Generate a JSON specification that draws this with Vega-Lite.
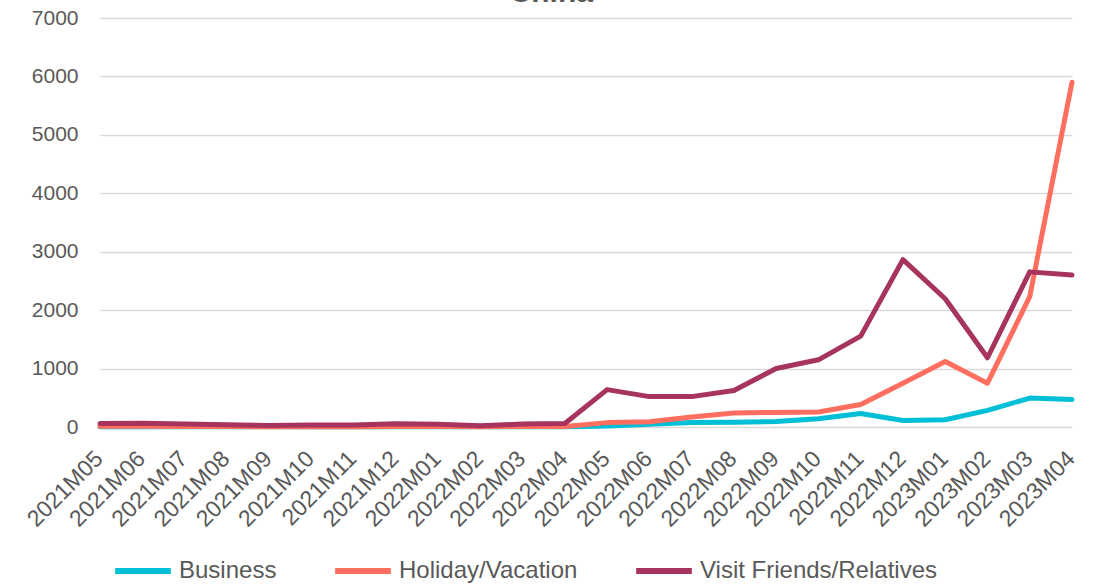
{
  "$schema": "https://vega.github.io/schema/vega-lite/v6.json",
  "width": 972,
  "height": 409,
  "autosize": {"type": "none"},
  "padding": {"left": 100, "top": 18, "right": 22, "bottom": 159},
  "title": {"text": "China", "offset": 4, "dy": 5, "fontSize": 30, "color": "#595959", "font": "Liberation Sans", "fontWeight": "bold", "anchor": "middle", "frame": "bounds"},
  "data": {
    "values": [
      {"month": "2021M05", "purpose": "Business", "value": 5},
      {"month": "2021M06", "purpose": "Business", "value": 5},
      {"month": "2021M07", "purpose": "Business", "value": 5},
      {"month": "2021M08", "purpose": "Business", "value": 5},
      {"month": "2021M09", "purpose": "Business", "value": 3},
      {"month": "2021M10", "purpose": "Business", "value": 3},
      {"month": "2021M11", "purpose": "Business", "value": 3},
      {"month": "2021M12", "purpose": "Business", "value": 5},
      {"month": "2022M01", "purpose": "Business", "value": 5},
      {"month": "2022M02", "purpose": "Business", "value": 3},
      {"month": "2022M03", "purpose": "Business", "value": 5},
      {"month": "2022M04", "purpose": "Business", "value": 5},
      {"month": "2022M05", "purpose": "Business", "value": 15},
      {"month": "2022M06", "purpose": "Business", "value": 45},
      {"month": "2022M07", "purpose": "Business", "value": 75},
      {"month": "2022M08", "purpose": "Business", "value": 80},
      {"month": "2022M09", "purpose": "Business", "value": 95},
      {"month": "2022M10", "purpose": "Business", "value": 140},
      {"month": "2022M11", "purpose": "Business", "value": 230},
      {"month": "2022M12", "purpose": "Business", "value": 110},
      {"month": "2023M01", "purpose": "Business", "value": 125},
      {"month": "2023M02", "purpose": "Business", "value": 285},
      {"month": "2023M03", "purpose": "Business", "value": 495},
      {"month": "2023M04", "purpose": "Business", "value": 470},
      {"month": "2021M05", "purpose": "Holiday/Vacation", "value": 12},
      {"month": "2021M06", "purpose": "Holiday/Vacation", "value": 12},
      {"month": "2021M07", "purpose": "Holiday/Vacation", "value": 10},
      {"month": "2021M08", "purpose": "Holiday/Vacation", "value": 8},
      {"month": "2021M09", "purpose": "Holiday/Vacation", "value": 5},
      {"month": "2021M10", "purpose": "Holiday/Vacation", "value": 6},
      {"month": "2021M11", "purpose": "Holiday/Vacation", "value": 6},
      {"month": "2021M12", "purpose": "Holiday/Vacation", "value": 10},
      {"month": "2022M01", "purpose": "Holiday/Vacation", "value": 8},
      {"month": "2022M02", "purpose": "Holiday/Vacation", "value": 5},
      {"month": "2022M03", "purpose": "Holiday/Vacation", "value": 8},
      {"month": "2022M04", "purpose": "Holiday/Vacation", "value": 10},
      {"month": "2022M05", "purpose": "Holiday/Vacation", "value": 75},
      {"month": "2022M06", "purpose": "Holiday/Vacation", "value": 90},
      {"month": "2022M07", "purpose": "Holiday/Vacation", "value": 170},
      {"month": "2022M08", "purpose": "Holiday/Vacation", "value": 240},
      {"month": "2022M09", "purpose": "Holiday/Vacation", "value": 250},
      {"month": "2022M10", "purpose": "Holiday/Vacation", "value": 257},
      {"month": "2022M11", "purpose": "Holiday/Vacation", "value": 385},
      {"month": "2022M12", "purpose": "Holiday/Vacation", "value": 750},
      {"month": "2023M01", "purpose": "Holiday/Vacation", "value": 1120},
      {"month": "2023M02", "purpose": "Holiday/Vacation", "value": 750},
      {"month": "2023M03", "purpose": "Holiday/Vacation", "value": 2230},
      {"month": "2023M04", "purpose": "Holiday/Vacation", "value": 5900},
      {"month": "2021M05", "purpose": "Visit Friends/Relatives", "value": 60},
      {"month": "2021M06", "purpose": "Visit Friends/Relatives", "value": 65},
      {"month": "2021M07", "purpose": "Visit Friends/Relatives", "value": 50},
      {"month": "2021M08", "purpose": "Visit Friends/Relatives", "value": 40},
      {"month": "2021M09", "purpose": "Visit Friends/Relatives", "value": 25},
      {"month": "2021M10", "purpose": "Visit Friends/Relatives", "value": 35},
      {"month": "2021M11", "purpose": "Visit Friends/Relatives", "value": 35},
      {"month": "2021M12", "purpose": "Visit Friends/Relatives", "value": 55},
      {"month": "2022M01", "purpose": "Visit Friends/Relatives", "value": 45},
      {"month": "2022M02", "purpose": "Visit Friends/Relatives", "value": 20},
      {"month": "2022M03", "purpose": "Visit Friends/Relatives", "value": 50},
      {"month": "2022M04", "purpose": "Visit Friends/Relatives", "value": 60},
      {"month": "2022M05", "purpose": "Visit Friends/Relatives", "value": 640},
      {"month": "2022M06", "purpose": "Visit Friends/Relatives", "value": 520},
      {"month": "2022M07", "purpose": "Visit Friends/Relatives", "value": 520},
      {"month": "2022M08", "purpose": "Visit Friends/Relatives", "value": 625},
      {"month": "2022M09", "purpose": "Visit Friends/Relatives", "value": 1000},
      {"month": "2022M10", "purpose": "Visit Friends/Relatives", "value": 1150},
      {"month": "2022M11", "purpose": "Visit Friends/Relatives", "value": 1555},
      {"month": "2022M12", "purpose": "Visit Friends/Relatives", "value": 2865},
      {"month": "2023M01", "purpose": "Visit Friends/Relatives", "value": 2195},
      {"month": "2023M02", "purpose": "Visit Friends/Relatives", "value": 1185},
      {"month": "2023M03", "purpose": "Visit Friends/Relatives", "value": 2655},
      {"month": "2023M04", "purpose": "Visit Friends/Relatives", "value": 2600}
    ]
  },
  "mark": {"type": "line", "strokeWidth": 5, "strokeJoin": "round", "strokeCap": "round"},
  "encoding": {
    "x": {
      "field": "month", "type": "ordinal", "sort": null,
      "scale": {"type": "point", "padding": 0},
      "axis": {"title": null, "labelAngle": -45, "domain": false, "ticks": false, "labelPadding": 20, "labelOffset": -9, "labelFontSize": 23, "labelColor": "#595959", "labelFont": "Liberation Sans"}
    },
    "y": {
      "field": "value", "type": "quantitative",
      "scale": {"domain": [0, 7000], "nice": false},
      "axis": {"title": null, "values": [0, 1000, 2000, 3000, 4000, 5000, 6000, 7000], "format": "d", "domain": false, "ticks": false, "labelPadding": 22, "labelFontSize": 21, "labelColor": "#595959", "labelFont": "Liberation Sans", "gridColor": "#D9D9D9", "gridWidth": 1.5}
    },
    "color": {
      "field": "purpose", "type": "nominal",
      "scale": {"domain": ["Business", "Holiday/Vacation", "Visit Friends/Relatives"], "range": ["#00BFD6", "#FF6E5F", "#A6345E"]},
      "legend": {"title": null, "orient": "bottom", "direction": "horizontal", "symbolType": "stroke", "symbolStrokeWidth": 6, "symbolSize": 3100, "labelFontSize": 24, "labelLimit": 400, "labelColor": "#595959", "labelFont": "Liberation Sans", "columnPadding": 46, "labelOffset": 5, "padding": 12, "offset": -4}
    }
  },
  "config": {"view": {"stroke": null}}
}
